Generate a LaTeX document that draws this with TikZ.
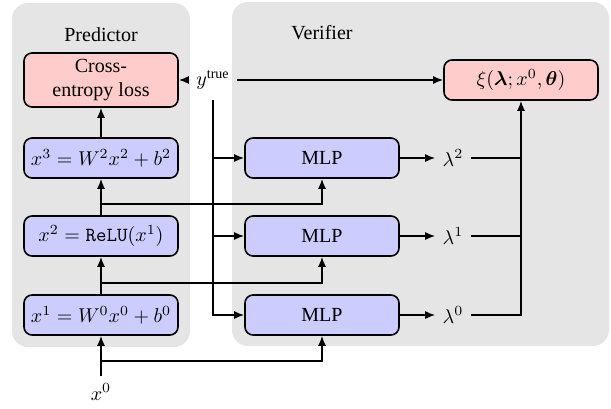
\documentclass[tikz,border=0pt]{standalone}
\usepackage{amsmath}
\usepackage{fontspec}
\setmainfont{Liberation Serif}
\usetikzlibrary{arrows, arrows.meta, positioning, calc}
\tikzset{
  flow/.style={
	>={Latex[length=5pt,width=4pt]}, % filled arrow heads
	thick,
  },
  panel/.style={fill=black!10, rounded corners=8pt}, % grey background blocks
  layer/.style={draw, thick, rounded corners=4pt, fill=blue!20, minimum width=77pt, minimum height=20pt}, % predictor layers and MLPs
  loss/.style={draw, thick, rounded corners=4pt, fill=red!20, minimum width=77pt, minimum height=20pt, align=center},
}

\begin{document}
\begin{tikzpicture}[flow, x=0.5pt, y=-0.5pt]
\useasboundingbox (0,0) rectangle (611,408);
% backgrounds
\fill[panel] (12,3) rectangle (190,347);
\fill[panel] (232,2) rectangle (609,346);
\node (ptitle) at (101,35) {Predictor};
\node (vtitle) at (322,33) {Verifier};
% predictor
\node[loss, minimum height=27pt, inner sep=2pt] (ce) at (101,80) {Cross-\\entropy loss};
\node[layer] (x3) at (101,158) {$x^3 = W^2x^2 + b^2$};
\node[layer] (x2) at (101,236) {$x^2 = \texttt{ReLU}(x^1)$};
\node[layer] (x1) at (101,315) {$x^1 = W^0x^0 + b^0$};
\node (x0) at (101,392) {$x^0$};
% verifier
\node[loss] (xi) at (521,80) {$\xi(\boldsymbol{\lambda}; x^0, \boldsymbol{\theta})$};
\node[layer] (mlp2) at (322,158) {MLP};
\node[layer] (mlp1) at (322,236) {MLP};
\node[layer] (mlp0) at (322,315) {MLP};
\node (lam2) at (453,158) {$\lambda^2$};
\node (lam1) at (453,236) {$\lambda^1$};
\node (lam0) at (453,315) {$\lambda^0$};
\node (ytrue) at (213,80) {$y^{\text{true}}$};
\coordinate (yt) at (213,100);
\coordinate (b0) at (101,361);
\coordinate (b1) at (101,283);
\coordinate (b2) at (101,204);

\draw[->] (x0) -- (x1);
\draw[->] (x1) -- (x2);
\draw[->] (x2) -- (x3);
\draw[->] (x3) -- (ce);
\draw[->] (b0) -| (mlp0.south);
\draw[->] (b1) -| (mlp1.south);
\draw[->] (b2) -| (mlp2.south);
\draw[->] (ytrue) -- (ce);
\draw[->] (ytrue) -- (xi);
\draw[->] (yt) |- (mlp0);
\draw[->] (yt |- mlp1) -- (mlp1);
\draw[->] (yt |- mlp2) -- (mlp2);
\draw[->] (mlp2) -- (lam2);
\draw[->] (mlp1) -- (lam1);
\draw[->] (mlp0) -- (lam0);
\draw[->] (lam0) -| (xi);
\draw (lam1) -- (lam1 -| xi);
\draw (lam2) -- (lam2 -| xi);
\end{tikzpicture}
\end{document}
